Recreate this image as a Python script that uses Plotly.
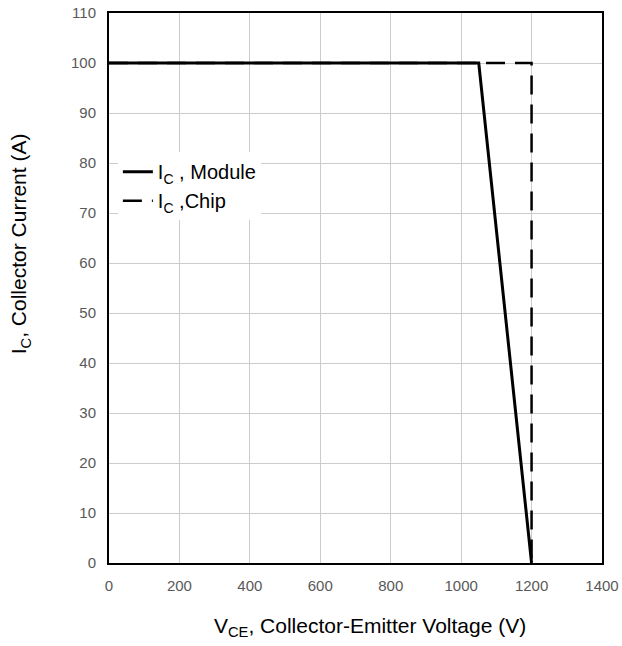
import plotly.graph_objects as go

# Data
module_vce = [0, 1050, 1200]
module_ic = [100, 100, 0]
chip_vce = [0, 1200, 1200]
chip_ic = [100, 100, 0]

x_ticks = [0, 200, 400, 600, 800, 1000, 1200, 1400]
y_ticks = [0, 10, 20, 30, 40, 50, 60, 70, 80, 90, 100, 110]

FONT = "Liberation Sans, Arial, sans-serif"

fig = go.Figure()
fig.add_trace(go.Scatter(
    x=module_vce, y=module_ic, mode="lines",
    name="I<sub>C</sub> , Module",
    line=dict(color="black", width=3),
))
fig.add_trace(go.Scatter(
    x=chip_vce, y=chip_ic, mode="lines",
    name="I<sub>C</sub> ,Chip",
    line=dict(color="black", width=2.5, dash="19px,10px"),
))

axis_common = dict(
    showgrid=True, gridcolor="#cccccc", gridwidth=1,
    showline=True, linecolor="black", linewidth=2, mirror=True,
    zeroline=False, automargin=False, ticklabeloverflow="allow",
    ticks="outside", ticklen=8, tickcolor="rgba(0,0,0,0)",
    tickfont=dict(family=FONT, size=15, color="#595959"),
)

fig.update_xaxes(range=[0, 1400], tickvals=x_ticks, **axis_common)
fig.update_yaxes(range=[0, 110], tickvals=y_ticks, **axis_common)

fig.update_layout(
    width=622, height=646,
    margin=dict(l=109, r=20, t=13, b=83),
    plot_bgcolor="white", paper_bgcolor="white",
    font=dict(family=FONT, color="black"),
    showlegend=True,
    legend=dict(
        x=0.018, y=0.747, xanchor="left", yanchor="top",
        bgcolor="white", borderwidth=0,
        font=dict(family=FONT, size=20, color="black"),
    ),
    annotations=[
        dict(text="V<sub>CE</sub>, Collector-Emitter Voltage (V)",
             xref="paper", yref="paper", x=0.529, y=-0.117,
             xanchor="center", yanchor="middle", showarrow=False,
             font=dict(family=FONT, size=21, color="black")),
        dict(text="I<sub>C</sub>, Collector Current (A)",
             xref="paper", yref="paper", x=-0.18, y=0.58,
             xanchor="center", yanchor="middle", showarrow=False,
             textangle=-90,
             font=dict(family=FONT, size=21, color="black")),
    ],
)

fig.write_html("out.html")
